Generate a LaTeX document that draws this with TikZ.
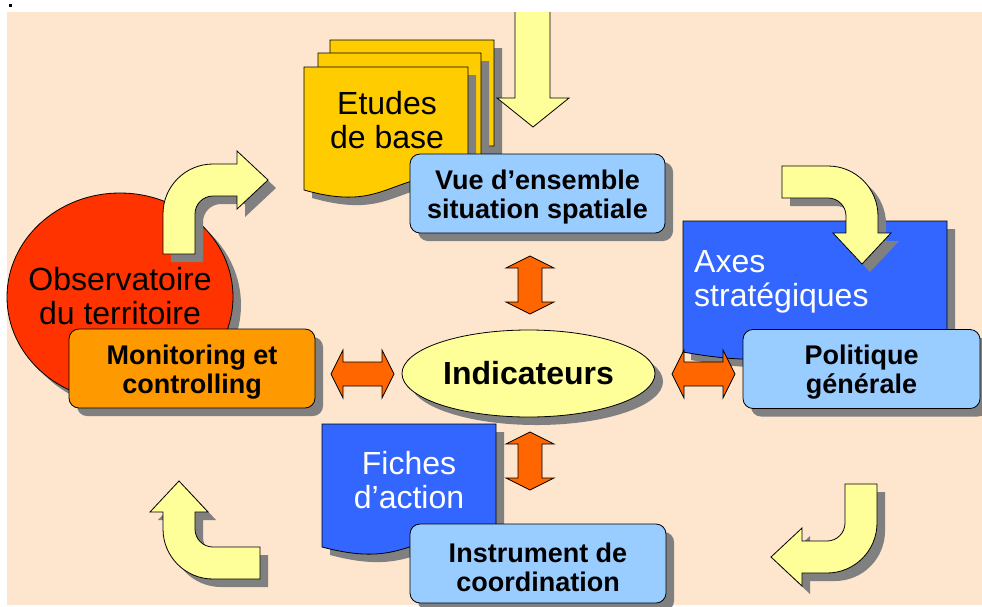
\documentclass[tikz,border=0pt]{standalone}
\usepackage{fontspec}
\setmainfont{Liberation Sans}
\usetikzlibrary{shapes.geometric,shadows}

\definecolor{peach}{HTML}{FDE5CE}
\definecolor{pale}{HTML}{FFFF99}
\definecolor{obsred}{HTML}{FF3300}
\definecolor{monorange}{HTML}{FF9900}
\definecolor{gold}{HTML}{FFCC00}
\definecolor{docblue}{HTML}{3366FF}
\definecolor{boxblue}{HTML}{99CCFF}
\definecolor{linkorange}{HTML}{FF6600}
\definecolor{shadowgray}{HTML}{808080}

\tikzset{
  outline/.style={draw=black,line width=0.8pt},
  castshadow/.style={drop shadow={shadow xshift=8pt,shadow yshift=-8pt,fill=shadowgray,opacity=1}},
  page/.style={outline,castshadow},
  infobox/.style={outline,castshadow,rounded corners=10pt,minimum height=79pt},
  boxtext/.style={align=center,font=\fontsize{27}{29}\selectfont\bfseries},
  bigtext/.style={align=center,font=\fontsize{32}{34}\selectfont},
  bentarrow/.style={outline,castshadow,fill=pale},
  linkarrow/.style={outline,fill=linkorange}
}

\begin{document}
\begin{tikzpicture}[x=1pt,y=-1pt]
  \useasboundingbox (0,0) rectangle (982,606);
  \fill[peach] (7,12) rectangle (982,605);
  \fill[black] (9,4) rectangle (11.5,6.5);

  \node[ellipse,outline,castshadow,fill=obsred,minimum width=226pt,minimum height=208pt] (obs) at (120,297) {};
  \node[bigtext] (obstext) at (120,296.5) {Observatoire\\du territoire};

  \foreach \px/\py/\pw in {330/40/164,318/53/163,304/67/164}
    \path[page,fill=gold,shift={(\px,\py)}] (0,0) -- (\pw,0) -- (\pw,106)
      .. controls ({\pw/2},106) and ({\pw/2},146) .. (0,123) -- cycle;
  \node[bigtext] (etudes) at (387,120) {Etudes\\de base};

  \begin{scope}
    \clip (7,12) rectangle (982,606);
    \path[outline,fill=pale] (515,0) -- (550,0) -- (550,98) -- (569,98) -- (533,127) -- (497,98) -- (515,98) -- cycle;
  \end{scope}

  \node[infobox,fill=boxblue,minimum width=255pt] (vue) at (537.5,193.5) {};
  \node[boxtext] (vuetext) at ([yshift=-3.5pt]vue.center) {Vue d’ensemble\\situation spatiale};

  \path[page,fill=docblue,shift={(683,221)}] (0,0) -- (264,0) -- (264,112)
    .. controls (132,112) and (132,155) .. (0,131) -- cycle;
  \node[bigtext,align=left,text=white,anchor=west,inner sep=0pt] (axes) at (694,281.5) {Axes\\stratégiques};
  \node[infobox,fill=boxblue,minimum width=237pt] (pol) at (861.5,369) {};
  \node[boxtext] (poltext) at ([yshift=-3.5pt]pol.center) {Politique\\générale};

  \node[infobox,fill=monorange,minimum width=246pt] (mon) at (192,368.5) {};
  \node[boxtext] (montext) at ([yshift=-3.5pt]mon.center) {Monitoring et\\controlling};

  \node[ellipse,outline,castshadow,fill=pale,inner sep=0pt,minimum width=253pt,minimum height=87pt,
    font=\fontsize{32}{34}\selectfont\bfseries] (ind) at (528.5,373.5) {Indicateurs};

  \path[page,fill=docblue,shift={(322,424)}] (0,0) -- (174,0) -- (174,106)
    .. controls (87,106) and (87,146) .. (0,123) -- cycle;
  \node[bigtext,text=white] (fiches) at (409,480) {Fiches\\d’action};
  \node[infobox,fill=boxblue,minimum width=256pt] (ins) at (538,563.5) {};
  \node[boxtext] (instext) at ([yshift=-3.5pt]ins.center) {Instrument de\\coordination};

  \foreach \cx/\cy/\ang/\len/\hd in {213/214/0/40/24,828/216/-90/46/17,827/523/180/39/25,213/529/90/47/17}
    \path[bentarrow,shift={(\cx,\cy)},rotate=\ang] (-50,\len) -- (-50,0)
      arc[start angle=180,end angle=270,radius=50] -- (\hd,-50) -- (\hd,-63) -- ({\hd+31},-34)
      -- (\hd,-5) -- (\hd,-18) -- (0,-18) arc[start angle=270,end angle=180,radius=18] -- (-18,\len) -- cycle;

  \foreach \cx/\cy/\ang/\len in {362.5/374/0/31.5,703.5/374/0/31.5,530/285/90/29,530/461/90/29}
    \path[linkarrow,shift={(\cx,\cy)},rotate=\ang] (-\len,0) -- ({-\len+12},-24) -- ({-\len+12},-12)
      -- ({\len-12},-12) -- ({\len-12},-24) -- (\len,0) -- ({\len-12},24) -- ({\len-12},12)
      -- ({-\len+12},12) -- ({-\len+12},24) -- cycle;
\end{tikzpicture}
\end{document}
